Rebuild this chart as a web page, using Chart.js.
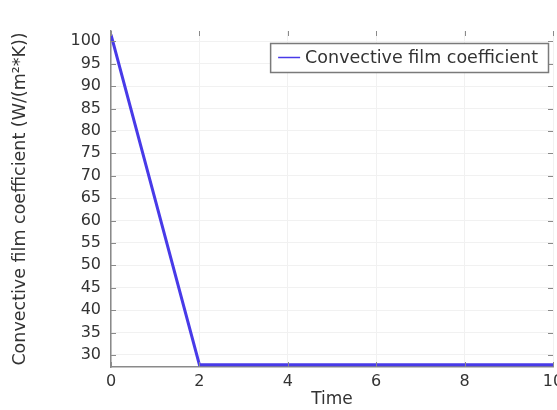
<!DOCTYPE html>
<html>
<head>
<meta charset="utf-8">
<script src="https://cdn.jsdelivr.net/npm/chart.js@4"></script>
<style>
  body { margin: 0; background: #fff; }
  #chart { display: block; }
</style>
</head>
<body>
<canvas id="chart" width="557" height="410"></canvas>
<script>
const timeValues = [0, 2, 10];
const filmCoefficient = [101.5, 27.8, 27.8];
const seriesLabel = 'Convective film coefficient';
const yTicks = [30, 35, 40, 45, 50, 55, 60, 65, 70, 75, 80, 85, 90, 95, 100];

const axisColor = '#8a8a8a';
const textColor = '#333333';
const lineColor = 'rgb(72, 58, 232)';

// COMSOL style: small tick marks pointing inward plus a legend box inside the plot
const innerDecor = {
    id: 'innerDecor',
    afterDatasetsDraw(chart) {
        const ctx = chart.ctx;
        const area = chart.chartArea;
        const xs = chart.scales.x;
        const ys = chart.scales.y;
        ctx.save();
        ctx.strokeStyle = axisColor;
        ctx.lineWidth = 1;
        ys.ticks.forEach(t => {
            const y = Math.round(ys.getPixelForValue(t.value)) + 0.5;
            ctx.beginPath();
            ctx.moveTo(area.left, y); ctx.lineTo(area.left + 5, y);
            ctx.moveTo(area.right, y); ctx.lineTo(area.right - 5, y);
            ctx.stroke();
        });
        xs.ticks.forEach(t => {
            const x = Math.round(xs.getPixelForValue(t.value)) + 0.5;
            ctx.beginPath();
            ctx.moveTo(x, area.bottom); ctx.lineTo(x, area.bottom - 5);
            ctx.moveTo(x, area.top); ctx.lineTo(x, area.top + 5);
            ctx.stroke();
        });

        // legend
        const label = chart.data.datasets[0].label;
        ctx.font = '17.5px "DejaVu Sans"';
        const tw = ctx.measureText(label).width;
        const boxW = tw + 45;
        const boxH = 29;
        const bx = area.right - 5 - boxW;
        const by = area.top + 12;
        ctx.fillStyle = '#ffffff';
        ctx.fillRect(bx, by, boxW, boxH);
        ctx.strokeStyle = '#7a7a7a';
        ctx.lineWidth = 1.5;
        ctx.strokeRect(bx + 0.5, by + 0.5, boxW, boxH);
        ctx.strokeStyle = lineColor;
        ctx.lineWidth = 1.5;
        ctx.beginPath();
        ctx.moveTo(bx + 8, by + boxH / 2);
        ctx.lineTo(bx + 30, by + boxH / 2);
        ctx.stroke();
        ctx.fillStyle = textColor;
        ctx.textBaseline = 'middle';
        ctx.fillText(label, bx + 35, by + boxH / 2 + 1);
        ctx.restore();
    }
};

const ctx = document.getElementById('chart').getContext('2d');
new Chart(ctx, {
    type: 'line',
    data: {
        datasets: [{
            label: seriesLabel,
            data: timeValues.map((t, i) => ({ x: t, y: filmCoefficient[i] })),
            borderColor: lineColor,
            borderWidth: 3,
            pointRadius: 0,
            fill: false,
            tension: 0
        }]
    },
    options: {
        responsive: false,
        animation: false,
        layout: { padding: { top: 31, right: 4, left: 0, bottom: 0 } },
        plugins: {
            legend: { display: false },
            tooltip: { enabled: false }
        },
        scales: {
            x: {
                type: 'linear',
                min: 0,
                max: 10,
                border: { color: axisColor, width: 1.5 },
                grid: { color: '#f1f1f1', drawTicks: false },
                ticks: {
                    stepSize: 2,
                    padding: 5,
                    color: textColor,
                    font: { family: 'DejaVu Sans', size: 16 },
                    maxRotation: 0
                },
                title: {
                    display: true,
                    text: 'Time',
                    color: textColor,
                    font: { family: 'DejaVu Sans', size: 17 },
                    padding: { top: 0, bottom: 0 }
                },
                afterFit(scale) {
                    scale.height = 43;
                    // let the last label run off the canvas like the original
                    scale.paddingRight = 0;
                    scale.paddingLeft = 0;
                }
            },
            y: {
                min: 27.3,
                max: 102.3,
                border: { color: axisColor, width: 1.5 },
                grid: { color: '#f1f1f1', drawTicks: false },
                afterBuildTicks(scale) {
                    scale.ticks = yTicks.map(v => ({ value: v }));
                },
                ticks: {
                    padding: 10,
                    color: textColor,
                    font: { family: 'DejaVu Sans', size: 16 }
                },
                title: {
                    display: true,
                    text: 'Convective film coefficient (W/(m²*K))',
                    color: textColor,
                    font: { family: 'DejaVu Sans', size: 17.5 },
                    padding: { top: 10, bottom: 0 }
                },
                afterFit(scale) { scale.width = 111; }
            }
        }
    },
    plugins: [innerDecor]
});
</script>
</body>
</html>
